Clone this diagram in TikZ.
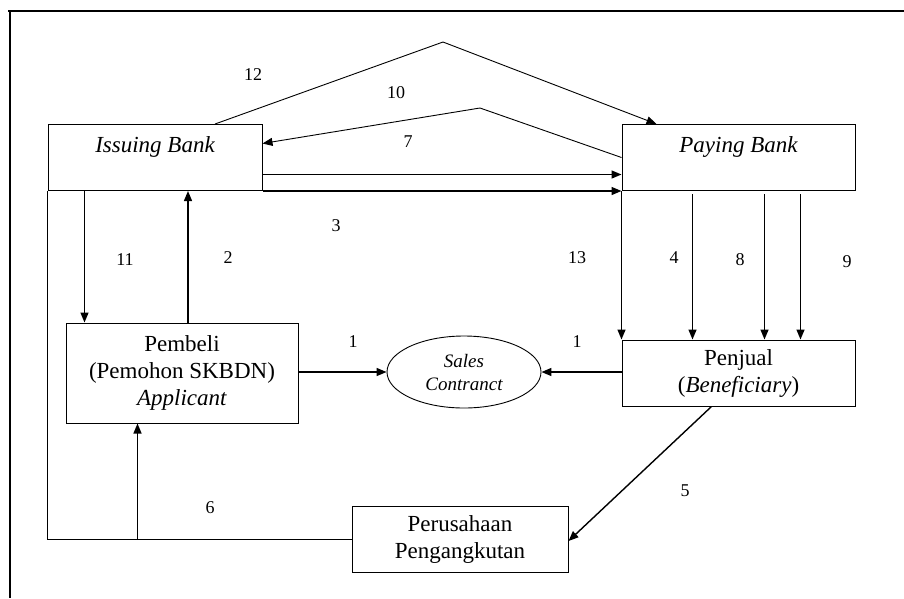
\documentclass[tikz,border=0pt]{standalone}
\usepackage{fontspec}
\setmainfont{Liberation Serif}
\usetikzlibrary{shapes.geometric,arrows.meta}
\tikzset{
  box/.style={draw,line width=1pt,minimum width=#1,minimum height=66pt,inner sep=0pt},
  num/.style={font=\fontsize{18}{21}\selectfont},
  flow/.style={-{Triangle[length=10pt,width=8pt]},line width=1.4pt},
  thin/.style={line width=0.9pt}
}
\begin{document}
\begin{tikzpicture}[x=1pt,y=-1pt,font=\fontsize{23}{27}\selectfont]
\useasboundingbox (0,0) rectangle (904,598);
\draw[line width=2.2pt](8,11)--(904,11);
\draw[line width=2.2pt](10,11)--(10,598);
% parties
\node[box=214pt,font=\fontsize{23}{27}\itshape,text depth=25pt](issuing) at (155,157.5){Issuing Bank};
\node[box=233pt,font=\fontsize{23}{27}\itshape,text depth=25pt](paying) at (738.5,157.5){Paying Bank};
\node[box=232pt,minimum height=100pt,align=center](pembeli) at (182,373){Pembeli\\(Pemohon SKBDN)\\\textit{Applicant}};
\node[box=233pt,align=center](penjual) at (738.5,373){Penjual\\(\textit{Beneficiary})};
\node[draw,thin,ellipse,minimum width=154pt,minimum height=72pt,inner sep=0pt,align=center,font=\fontsize{19}{23}\itshape](sales) at (464,372){Sales\\Contranct};
\node[box=216pt,align=center](kapal) at (460,539){Perusahaan\\Pengangkutan};
% flows
\coordinate (peak) at (443,42);
\coordinate (bend) at (480,108);
\coordinate (down11) at ([xshift=19pt]pembeli.north west);
\coordinate (up2) at ([xshift=6pt]pembeli.north);
\draw[flow,thin] ([xshift=60pt]issuing.north)--(peak)--([xshift=-82pt]paying.north);
\draw[flow,thin] (paying.west)--(bend)--([yshift=14pt]issuing.east);
\draw[flow] ([yshift=-17pt]issuing.east)--([yshift=-17pt]paying.west);
\draw[flow] (issuing.south east)--(paying.south west);
\draw[flow] (down11|-issuing.south)--(down11);
\draw[flow] (up2)--(up2|-issuing.south);
\draw[flow] (paying.south west)--(penjual.north west);
\draw[flow] ([xshift=71pt,yshift=-3pt]paying.south west)--([xshift=71pt]penjual.north west);
\draw[flow] ([xshift=143pt,yshift=-3pt]paying.south west)--([xshift=143pt]penjual.north west);
\draw[flow] ([xshift=179pt,yshift=-3pt]paying.south west)--([xshift=179pt]penjual.north west);
\draw[flow] (pembeli.east|-sales.west)--(sales.west);
\draw[flow] (penjual.west|-sales.east)--(sales.east);
\draw[flow] ([xshift=-27pt]penjual.south)--([yshift=-2pt]kapal.east);
\coordinate (cornerL) at (issuing.south west|-kapal.west);
\coordinate (goodsup) at ([xshift=72pt]pembeli.south west);
\draw[thin] (kapal.west)--(cornerL)--(issuing.south west);
\draw[flow] (goodsup|-cornerL)--(goodsup);
% numbers
\node[num](n12) at (253,75){12};
\node[num](n10) at (396,93){10};
\node[num](n7) at (408,142){7};
\node[num](n3) at (336,226){3};
\node[num](n11) at (125,260){11};
\node[num](n2) at (228,258){2};
\node[num](n13) at (577,258){13};
\node[num](n4) at (674,258){4};
\node[num](n8) at (740,260){8};
\node[num](n9) at (847,262){9};
\node[num](n1a) at (353,342){1};
\node[num](n1b) at (577,342){1};
\node[num](n5) at (685,491){5};
\node[num](n6) at (210,508){6};
\end{tikzpicture}
\end{document}
